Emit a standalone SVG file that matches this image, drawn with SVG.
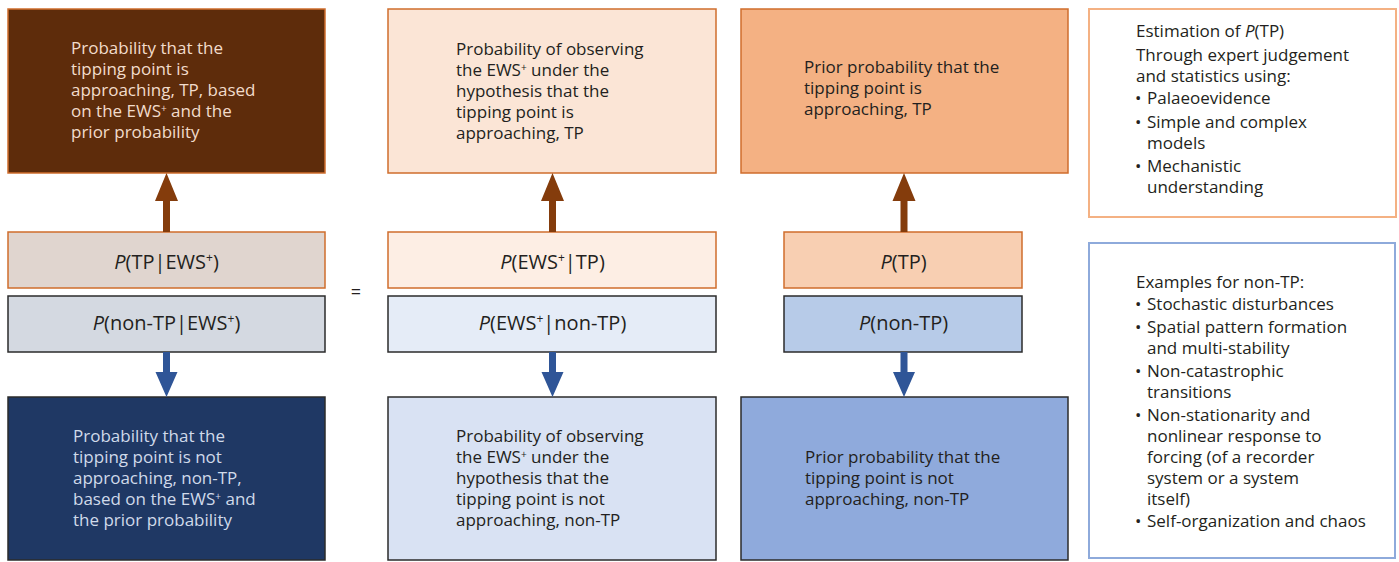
<svg xmlns="http://www.w3.org/2000/svg" width="1399" height="562" viewBox="0 0 1399 562">
  <style>
    .body { font-family: "Open Sans", "Liberation Sans", sans-serif; font-size: 17px; fill: #231f20; }
    .light { fill: #f2dccb; }
    .pale { fill: #d0daea; }
    .label { font-family: "Open Sans", "Liberation Sans", sans-serif; font-size: 20px; fill: #231f20; text-anchor: middle; }
    .sup { font-size: 10px; baseline-shift: 5px; }
    .supl { font-size: 12px; baseline-shift: 7px; }
    .it { font-style: italic; }
    .warm { stroke: #cf6d2c; stroke-width: 1.5; }
    .cool { stroke: #2b2b2b; stroke-width: 1.5; }
  </style>

  <!-- column 1: posterior -->
  <g id="posterior-tp">
    <rect x="8" y="9" width="317" height="164" fill="#5e2c0b" class="warm"/>
    <text class="body light" x="71" y="54">Probability that the</text>
    <text class="body light" x="71" y="75">tipping point is</text>
    <text class="body light" x="71" y="96">approaching, TP, based</text>
    <text class="body light" x="71" y="117">on the EWS<tspan class="sup">+</tspan> and the</text>
    <text class="body light" x="71" y="138">prior probability</text>
  </g>
  <g id="p-tp-ews">
    <rect x="8" y="232" width="317" height="56" fill="#e0d5cf" class="warm"/>
    <text class="label" x="166.5" y="269"><tspan class="it">P</tspan>(TP|EWS<tspan class="supl">+</tspan>)</text>
  </g>
  <g id="p-nontp-ews">
    <rect x="8" y="296" width="317" height="56" fill="#d4d9e1" class="cool"/>
    <text class="label" x="166.5" y="330"><tspan class="it">P</tspan>(non-TP|EWS<tspan class="supl">+</tspan>)</text>
  </g>
  <g id="posterior-nontp">
    <rect x="8" y="397" width="317" height="163" fill="#1f3864" class="cool"/>
    <text class="body pale" x="73" y="442">Probability that the</text>
    <text class="body pale" x="73" y="463">tipping point is not</text>
    <text class="body pale" x="73" y="484">approaching, non-TP,</text>
    <text class="body pale" x="73" y="505">based on the EWS<tspan class="sup">+</tspan> and</text>
    <text class="body pale" x="73" y="526">the prior probability</text>
  </g>

  <!-- equals sign -->
  <g id="equals">
    <text class="label" x="356" y="298" style="font-size:18px">=</text>
  </g>

  <!-- column 2: likelihood -->
  <g id="likelihood-tp">
    <rect x="388" y="9" width="328" height="164" fill="#fbe5d6" class="warm"/>
    <text class="body" x="456" y="55">Probability of observing</text>
    <text class="body" x="456" y="76">the EWS<tspan class="sup">+</tspan> under the</text>
    <text class="body" x="456" y="97">hypothesis that the</text>
    <text class="body" x="456" y="118">tipping point is</text>
    <text class="body" x="456" y="139">approaching, TP</text>
  </g>
  <g id="p-ews-tp">
    <rect x="388" y="232" width="328" height="56" fill="#fdeee4" class="warm"/>
    <text class="label" x="552.5" y="269"><tspan class="it">P</tspan>(EWS<tspan class="supl">+</tspan>|TP)</text>
  </g>
  <g id="p-ews-nontp">
    <rect x="388" y="296" width="328" height="56" fill="#e5ecf7" class="cool"/>
    <text class="label" x="552.5" y="330"><tspan class="it">P</tspan>(EWS<tspan class="supl">+</tspan>|non-TP)</text>
  </g>
  <g id="likelihood-nontp">
    <rect x="388" y="397" width="328" height="163" fill="#d9e2f3" class="cool"/>
    <text class="body" x="456" y="442">Probability of observing</text>
    <text class="body" x="456" y="463">the EWS<tspan class="sup">+</tspan> under the</text>
    <text class="body" x="456" y="484">hypothesis that the</text>
    <text class="body" x="456" y="505">tipping point is not</text>
    <text class="body" x="456" y="526">approaching, non-TP</text>
  </g>

  <!-- column 3: prior -->
  <g id="prior-tp">
    <rect x="741" y="9" width="327" height="164" fill="#f4b183" class="warm"/>
    <text class="body" x="804" y="73">Prior probability that the</text>
    <text class="body" x="804" y="94">tipping point is</text>
    <text class="body" x="804" y="115">approaching, TP</text>
  </g>
  <g id="p-tp">
    <rect x="784" y="232" width="238" height="56" fill="#f8cfb2" class="warm"/>
    <text class="label" x="903.5" y="269"><tspan class="it">P</tspan>(TP)</text>
  </g>
  <g id="p-nontp">
    <rect x="784" y="296" width="238" height="56" fill="#b7cbe8" class="cool"/>
    <text class="label" x="903.5" y="330"><tspan class="it">P</tspan>(non-TP)</text>
  </g>
  <g id="prior-nontp">
    <rect x="741" y="397" width="327" height="163" fill="#8faadc" class="cool"/>
    <text class="body" x="805" y="463">Prior probability that the</text>
    <text class="body" x="805" y="484">tipping point is not</text>
    <text class="body" x="805" y="505">approaching, non-TP</text>
  </g>

  <!-- side notes -->
  <g id="estimation-note">
    <rect x="1089" y="9" width="307" height="208" fill="#ffffff" stroke="#f4b183" stroke-width="2"/>
    <text class="body" x="1136" y="37">Estimation of <tspan class="it">P</tspan>(TP)</text>
    <text class="body" x="1136" y="61">Through expert judgement</text>
    <text class="body" x="1136" y="82">and statistics using:</text>
    <text class="body" x="1135" y="104">•</text><text class="body" x="1147" y="104">Palaeoevidence</text>
    <text class="body" x="1135" y="128">•</text><text class="body" x="1147" y="128">Simple and complex</text>
    <text class="body" x="1147" y="149">models</text>
    <text class="body" x="1135" y="172">•</text><text class="body" x="1147" y="172">Mechanistic</text>
    <text class="body" x="1147" y="193">understanding</text>
  </g>
  <g id="nontp-examples">
    <rect x="1089" y="243" width="306" height="315" fill="#ffffff" stroke="#8eaadb" stroke-width="2"/>
    <text class="body" x="1136" y="288">Examples for non-TP:</text>
    <text class="body" x="1135" y="310">•</text><text class="body" x="1147" y="310">Stochastic disturbances</text>
    <text class="body" x="1135" y="333">•</text><text class="body" x="1147" y="333">Spatial pattern formation</text>
    <text class="body" x="1147" y="354">and multi-stability</text>
    <text class="body" x="1135" y="377">•</text><text class="body" x="1147" y="377">Non-catastrophic</text>
    <text class="body" x="1147" y="398">transitions</text>
    <text class="body" x="1135" y="421">•</text><text class="body" x="1147" y="421">Non-stationarity and</text>
    <text class="body" x="1147" y="442">nonlinear response to</text>
    <text class="body" x="1147" y="463">forcing (of a recorder</text>
    <text class="body" x="1147" y="484">system or a system</text>
    <text class="body" x="1147" y="505">itself)</text>
    <text class="body" x="1135" y="527">•</text><text class="body" x="1147" y="527">Self-organization and chaos</text>
  </g>

  <!-- arrows -->
  <g id="connectors">
    <path fill="#843c0c" d="M163,232 V201 H155 L166.5,173 L178,201 H170 V232 Z"/>
    <path fill="#843c0c" d="M549,232 V201 H541 L552.5,173 L564,201 H556 V232 Z"/>
    <path fill="#843c0c" d="M900.5,232 V201 H892.5 L904,173 L915.5,201 H907.5 V232 Z"/>
    <path fill="#2f5597" d="M163,352 V372 H155.5 L166.5,397 L177.5,372 H170 V352 Z"/>
    <path fill="#2f5597" d="M549,352 V372 H541.5 L552.5,397 L563.5,372 H556 V352 Z"/>
    <path fill="#2f5597" d="M900.5,352 V372 H893 L904,397 L915,372 H907.5 V352 Z"/>
  </g>
</svg>
